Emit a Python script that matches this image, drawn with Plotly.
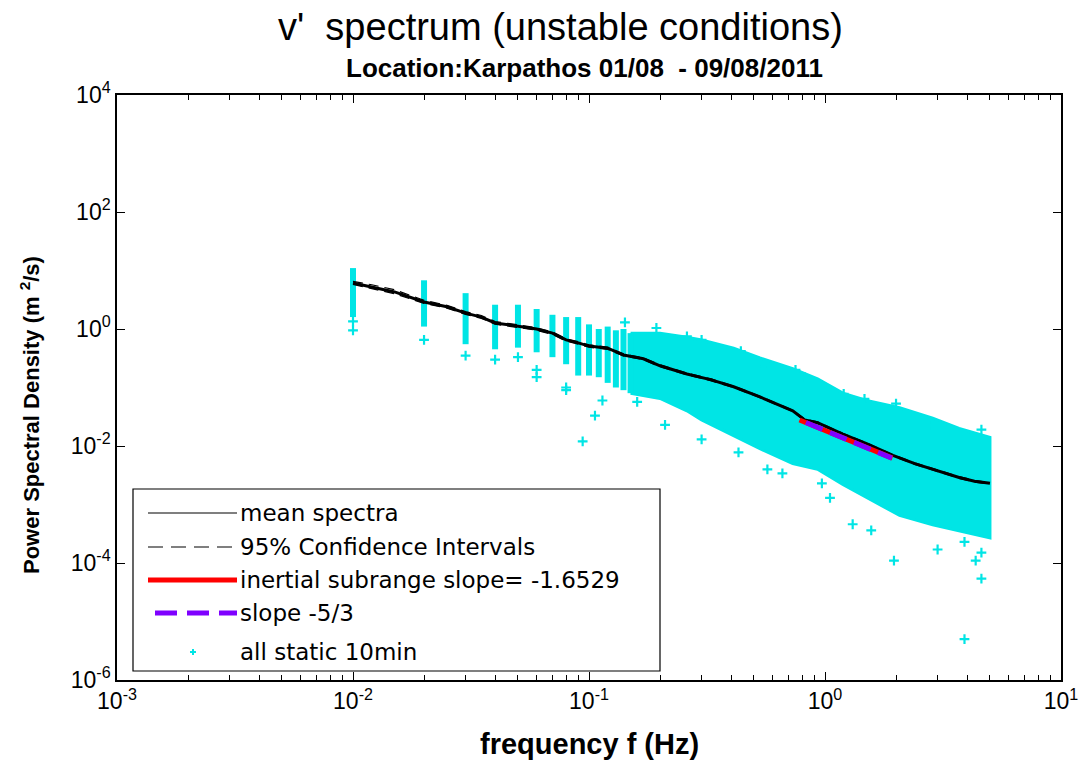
import plotly.graph_objects as go

# ---------------- data ----------------
# discrete low-frequency columns of the "all static 10min" cloud
col_f = [0.01, 0.02, 0.03, 0.04, 0.05, 0.06, 0.07, 0.08, 0.09, 0.10, 0.11, 0.12, 0.13, 0.14, 0.15]
col_hi = [11.0, 6.8, 4.1, 2.6, 2.6, 2.2, 1.75, 1.6, 1.6, 1.2, 1.0, 1.1, 0.95, 1.0, 0.85]
col_lo = [1.6, 1.1, 0.55, 0.45, 0.48, 0.40, 0.33, 0.25, 0.16, 0.16, 0.15, 0.12, 0.10, 0.09, 0.08]

# dense part of the cloud (upper / lower envelope)
band_f = [0.15, 0.2, 0.26, 0.3, 0.41, 0.53, 0.73, 0.93, 1.19, 1.5, 2.07, 2.86, 3.7, 5.0]
band_hi = [0.85, 0.85, 0.72, 0.65, 0.47, 0.32, 0.21, 0.14, 0.08, 0.06, 0.045, 0.03, 0.02, 0.014]
band_lo = [0.08, 0.065, 0.04, 0.028, 0.015, 0.009, 0.005, 0.0040, 0.0022, 0.0013, 6.5e-4, 4.5e-4, 3.5e-4, 2.7e-4]

# isolated points of the cloud
out_f = [0.01, 0.01, 0.02, 0.03, 0.04, 0.05, 0.06, 0.06, 0.08, 0.08, 0.094, 0.106, 0.114, 0.142,
         0.16, 0.193, 0.21, 0.26, 0.30, 0.30, 0.43, 0.44, 0.49, 0.54, 0.57, 0.66, 0.75, 0.82,
         0.97, 1.05, 1.2, 1.31, 1.47, 1.57, 1.96, 2.0, 2.78, 3.0, 3.9, 3.9, 4.35, 4.6, 4.6, 4.6]
out_psd = [1.35, 0.95, 0.65, 0.35, 0.30, 0.33, 0.2, 0.15, 0.1, 0.09, 0.012, 0.033, 0.06, 1.3,
           0.057, 1.04, 0.023, 0.75, 0.65, 0.013, 0.0078, 0.42, 0.29, 0.23, 0.004, 0.0034, 0.2, 0.15,
           0.0023, 0.0013, 0.078, 4.6e-4, 0.064, 3.6e-4, 1.1e-4, 0.053, 0.022, 1.7e-4, 2.3e-4, 5e-6,
           1.1e-4, 5.4e-5, 1.5e-4, 0.019]

# mean spectrum and 95% confidence intervals
mean_f = [0.01, 0.012, 0.015, 0.02, 0.025, 0.03, 0.035, 0.04, 0.05, 0.06, 0.07, 0.08, 0.09, 0.1,
          0.12, 0.14, 0.17, 0.2, 0.26, 0.33, 0.41, 0.53, 0.73, 0.82, 0.93, 1.19, 1.5, 1.94,
          2.4, 2.86, 3.7, 4.3, 5.0]
mean_psd = [6.1, 5.2, 4.3, 2.9, 2.4, 1.87, 1.6, 1.27, 1.12, 1.0, 0.85, 0.65, 0.58, 0.51,
            0.47, 0.36, 0.31, 0.235, 0.17, 0.135, 0.103, 0.069, 0.040, 0.028, 0.025, 0.016, 0.011, 0.0069,
            0.005, 0.004, 0.0029, 0.0025, 0.0023]
ci_up = [6.5, 5.7, 4.7, 3.1, 2.55, 1.98, 1.7, 1.34, 1.18, 1.05, 0.89, 0.68, 0.61, 0.535,
         0.49, 0.375, 0.32, 0.245, 0.176, 0.14, 0.106, 0.071, 0.041, 0.029, 0.0258, 0.0165, 0.0113, 0.0071,
         0.00515, 0.0041, 0.003, 0.00258, 0.00237]
ci_lo = [5.8, 4.9, 4.0, 2.75, 2.28, 1.78, 1.52, 1.21, 1.07, 0.95, 0.81, 0.62, 0.55, 0.487,
         0.45, 0.345, 0.3, 0.226, 0.165, 0.13, 0.1, 0.067, 0.039, 0.027, 0.0242, 0.0155, 0.0107, 0.0067,
         0.00485, 0.0039, 0.0028, 0.00242, 0.00223]

# inertial-subrange fit and -5/3 reference slope
fit_f = [0.78, 1.93]
fit_psd = [0.0278, 0.0062]
ref_f = [0.83, 1.92]
ref_psd = [0.0252, 0.0062]

legend_labels = ["mean spectra", "95% Confidence Intervals",
                 "inertial subrange slope= -1.6529", "slope -5/3", "all static 10min"]

x_tickvals = [1e-3, 1e-2, 1e-1, 1e0, 1e1]
x_ticktext = ["10<sup>-3</sup>", "10<sup>-2</sup>", "10<sup>-1</sup>", "10<sup>0</sup>", "10<sup>1</sup>"]
x_minor_vals = [m * 10.0 ** e for e in range(-3, 1) for m in range(2, 10)]
y_tickvals = [1e-6, 1e-4, 1e-2, 1e0, 1e2, 1e4]
y_ticktext = ["10<sup>-6</sup>", "10<sup>-4</sup>", "10<sup>-2</sup>", "10<sup>0</sup>",
              "10<sup>2</sup>", "10<sup>4</sup>"]

# ---------------- styles ----------------
CYAN = "#00e5e5"
RED = "#ff0000"
PURPLE = "#7f00ff"
FONT = "Liberation Sans"

fig = go.Figure()

# cloud: dense band
fig.add_trace(go.Scatter(
    x=band_f + band_f[::-1], y=band_hi + band_lo[::-1],
    fill="toself", fillcolor=CYAN, mode="lines", line=dict(color=CYAN, width=3),
    hoverinfo="skip", showlegend=False))

# cloud: low-frequency columns
cx, cy = [], []
for f, lo, hi in zip(col_f, col_lo, col_hi):
    cx += [f, f, None]
    cy += [lo, hi, None]
fig.add_trace(go.Scatter(x=cx, y=cy, mode="lines", line=dict(color=CYAN, width=6),
                         hoverinfo="skip", showlegend=False))

# cloud: isolated points
fig.add_trace(go.Scatter(x=out_f, y=out_psd, mode="markers",
                         marker=dict(symbol="cross-thin", size=7, color=CYAN,
                                     line=dict(color=CYAN, width=2.2)),
                         showlegend=False))

# mean spectra and CIs
fig.add_trace(go.Scatter(x=mean_f, y=ci_up, mode="lines",
                         line=dict(color="black", width=1.2, dash="10px,6px"), showlegend=False))
fig.add_trace(go.Scatter(x=mean_f, y=ci_lo, mode="lines",
                         line=dict(color="black", width=1.2, dash="10px,6px"), showlegend=False))
fig.add_trace(go.Scatter(x=mean_f, y=mean_psd, mode="lines",
                         line=dict(color="black", width=3), showlegend=False))

# fit lines
fig.add_trace(go.Scatter(x=fit_f, y=fit_psd, mode="lines",
                         line=dict(color=RED, width=5), showlegend=False))
fig.add_trace(go.Scatter(x=ref_f, y=ref_psd, mode="lines",
                         line=dict(color=PURPLE, width=5, dash="18px,8px"), showlegend=False))

# ---------------- layout ----------------
W, H = 1081, 762
L, R, T, B = 117, 20, 95, 82
PW, PH = W - L - R, H - T - B


def px(x):
    return (x - L) / PW


def py(y):
    return (H - B - y) / PH


axis_common = dict(type="log", showgrid=False, zeroline=False, showline=True, automargin=False,
                   linecolor="black", linewidth=1.5, mirror="allticks",
                   ticks="inside", ticklen=8, tickwidth=1.2, tickcolor="black",
                   tickfont=dict(family=FONT, size=23, color="black"))

fig.update_layout(
    width=W, height=H,
    margin=dict(l=L, r=R, t=T, b=B),
    paper_bgcolor="white", plot_bgcolor="white",
    showlegend=False,
    xaxis=dict(range=[-3, 1], tickmode="array", tickvals=x_tickvals, ticktext=x_ticktext,
               minor=dict(tickmode="array", tickvals=x_minor_vals, ticks="inside", ticklen=5,
                          tickwidth=1, tickcolor="black", showgrid=False),
               **axis_common),
    yaxis=dict(range=[-6, 4], tickmode="array", tickvals=y_tickvals, ticktext=y_ticktext,
               **axis_common),
)

ann = []
ann.append(dict(text="v'  spectrum (unstable conditions)", x=px(560), y=py(27),
                xref="paper", yref="paper", showarrow=False, yanchor="middle",
                font=dict(family=FONT, size=38, color="black")))
ann.append(dict(text="<b>Location:Karpathos 01/08  - 09/08/2011</b>", x=px(584), y=py(68),
                xref="paper", yref="paper", showarrow=False, yanchor="middle",
                font=dict(family=FONT, size=26, color="black")))
ann.append(dict(text="<b>frequency f (Hz)</b>", x=px(589), y=py(744),
                xref="paper", yref="paper", showarrow=False, yanchor="middle",
                font=dict(family=FONT, size=29, color="black")))
ann.append(dict(text="<b>Power Spectral Density (m <sup>2</sup>/s)</b>", x=px(30), y=py(415),
                xref="paper", yref="paper", showarrow=False, textangle=-90,
                xanchor="center", yanchor="middle",
                font=dict(family=FONT, size=22, color="black")))

# custom MATLAB-style legend
shapes = [dict(type="rect", xref="paper", yref="paper",
               x0=px(133), x1=px(660), y0=py(671), y1=py(489),
               line=dict(color="black", width=1.2), fillcolor="white", layer="above")]
rows = [513, 547, 580, 613, 652]
shapes.append(dict(type="line", xref="paper", yref="paper", x0=px(148), x1=px(237),
                   y0=py(rows[0]), y1=py(rows[0]), line=dict(color="black", width=1.2), layer="above"))
shapes.append(dict(type="line", xref="paper", yref="paper", x0=px(148), x1=px(237),
                   y0=py(rows[1]), y1=py(rows[1]), line=dict(color="black", width=1.2, dash="15px,8px"),
                   layer="above"))
shapes.append(dict(type="line", xref="paper", yref="paper", x0=px(148), x1=px(237),
                   y0=py(rows[2]), y1=py(rows[2]), line=dict(color=RED, width=5), layer="above"))
shapes.append(dict(type="line", xref="paper", yref="paper", x0=px(155), x1=px(237),
                   y0=py(rows[3]), y1=py(rows[3]), line=dict(color=PURPLE, width=5, dash="22px,10px"),
                   layer="above"))
# cyan '+' marker sample
shapes.append(dict(type="line", xref="paper", yref="paper", x0=px(190), x1=px(196),
                   y0=py(rows[4]), y1=py(rows[4]), line=dict(color=CYAN, width=2), layer="above"))
shapes.append(dict(type="line", xref="paper", yref="paper", x0=px(193), x1=px(193),
                   y0=py(rows[4] - 3), y1=py(rows[4] + 3), line=dict(color=CYAN, width=2), layer="above"))
for lab, ry in zip(legend_labels, rows):
    ann.append(dict(text=lab, x=px(238), y=py(ry), xref="paper", yref="paper",
                    xanchor="left", yanchor="middle", showarrow=False,
                    font=dict(family="DejaVu Sans", size=23, color="black")))

fig.update_layout(annotations=ann, shapes=shapes)

# remove the default 8px page margin so the figure fills the window exactly
fig.write_html("out.html", config={"displayModeBar": False},
               post_script="document.body.style.margin='0px';document.body.style.overflow='hidden';")
